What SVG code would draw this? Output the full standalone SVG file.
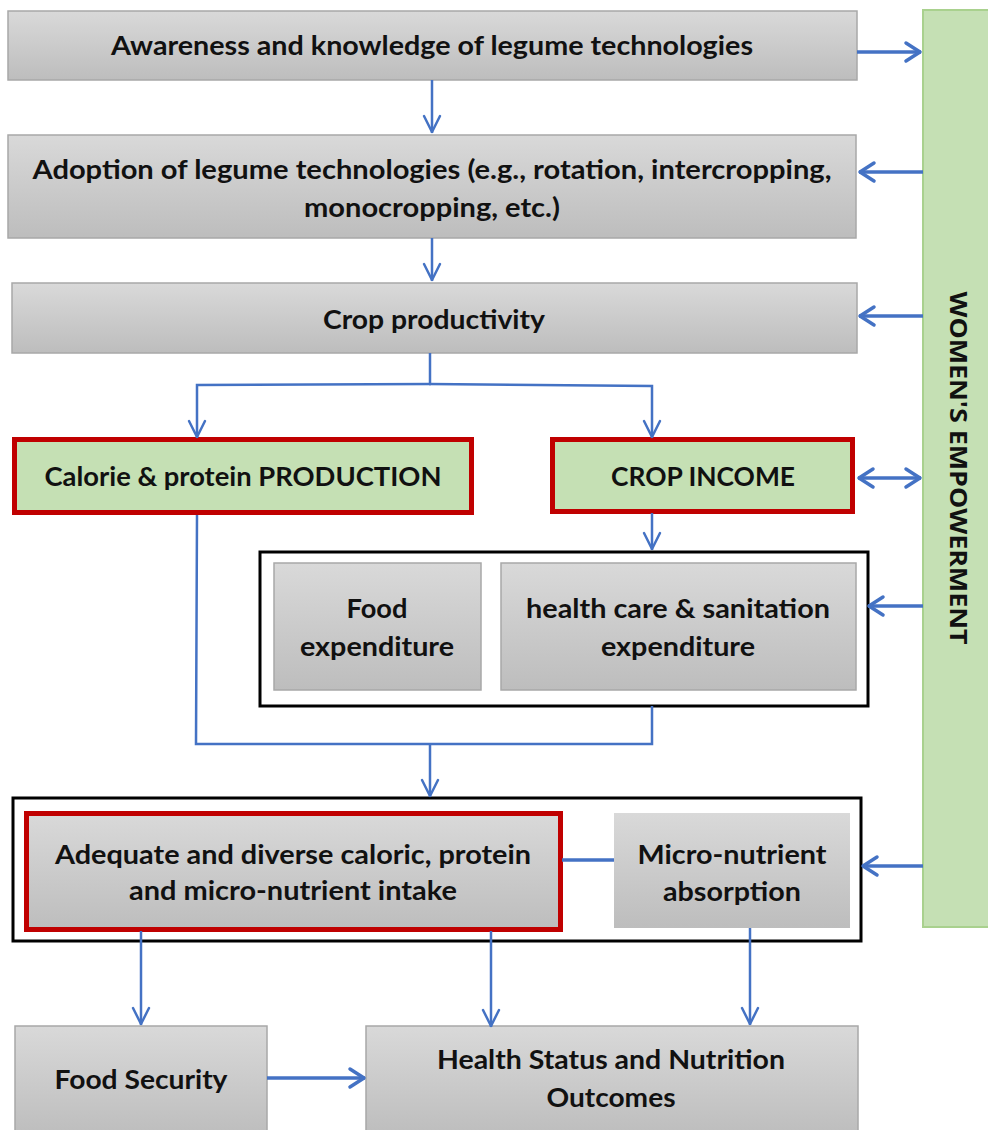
<svg xmlns="http://www.w3.org/2000/svg" width="988" height="1130" viewBox="0 0 988 1130">
<defs>
<linearGradient id="gray" x1="0" y1="0" x2="0" y2="1">
<stop offset="0" stop-color="#d9d9d9"/>
<stop offset="1" stop-color="#bdbdbd"/>
</linearGradient>
<marker id="ah" markerUnits="userSpaceOnUse" markerWidth="24" markerHeight="24" viewBox="-20 -12 24 24" refX="0" refY="0" orient="auto-start-reverse">
<path d="M-15,-9 L-1,0 L-15,9" fill="none" stroke="#4472c4" stroke-width="3.5" stroke-linecap="round" stroke-linejoin="round"/>
</marker>
<marker id="ahs" markerUnits="userSpaceOnUse" markerWidth="24" markerHeight="24" viewBox="-20 -12 24 24" refX="0" refY="0" orient="auto-start-reverse">
<path d="M-17,-8 L-1,0 L-17,8" fill="none" stroke="#4472c4" stroke-width="2.5" stroke-linecap="round" stroke-linejoin="round"/>
</marker>
</defs>
<style>
.g{fill:url(#gray);stroke:#a8a8a8;stroke-width:1.5}
.gr{fill:#c5e0b4;stroke:#c00000;stroke-width:5}
.rg{fill:url(#gray);stroke:#c00000;stroke-width:5}
.cont{fill:#fff;stroke:#000;stroke-width:3}
.side{fill:#c5e0b4;stroke:#a9d18e;stroke-width:2}
text{font-family:"Lato","Liberation Sans",sans-serif;font-weight:bold;font-size:26px;fill:#111;text-anchor:middle}
.c{fill:none;stroke:#4472c4;stroke-width:2.5}
.ct{fill:none;stroke:#4472c4;stroke-width:3.5}
.v{marker-end:url(#ahs)}
.h{marker-end:url(#ah)}
</style>
<g id="womens-empowerment">
<rect class="side" x="923" y="10" width="70" height="917"/>
<text transform="translate(950,468) rotate(90)" style="font-family:'Open Sans','DejaVu Sans',sans-serif;font-size:23px" textLength="353" lengthAdjust="spacingAndGlyphs">WOMEN'S EMPOWERMENT</text>
</g>
<g id="awareness">
<rect class="g" x="8" y="11" width="849" height="69"/>
<text x="432" y="55" textLength="642" lengthAdjust="spacingAndGlyphs">Awareness and knowledge of legume technologies</text>
</g>
<g id="adoption">
<rect class="g" x="8" y="135" width="848" height="103"/>
<text x="432" y="179" textLength="799" lengthAdjust="spacingAndGlyphs">Adoption of legume technologies (e.g., rotation, intercropping,</text>
<text x="432" y="217" textLength="256" lengthAdjust="spacingAndGlyphs">monocropping, etc.)</text>
</g>
<g id="crop-productivity">
<rect class="g" x="12" y="283" width="845" height="70"/>
<text x="434" y="329" textLength="222" lengthAdjust="spacingAndGlyphs">Crop productivity</text>
</g>
<g id="calorie-production">
<rect class="gr" x="14.5" y="439.5" width="457" height="73"/>
<text x="243" y="486" textLength="397" lengthAdjust="spacingAndGlyphs">Calorie &amp; protein PRODUCTION</text>
</g>
<g id="crop-income">
<rect class="gr" x="552.5" y="439.5" width="300" height="72"/>
<text x="703" y="486" textLength="184" lengthAdjust="spacingAndGlyphs">CROP INCOME</text>
</g>
<g id="expenditure-group">
<rect class="cont" x="260" y="552" width="608" height="154"/>
</g>
<g id="food-expenditure">
<rect class="g" x="274" y="563" width="207" height="127"/>
<text x="377" y="618" textLength="61" lengthAdjust="spacingAndGlyphs">Food</text>
<text x="377" y="656" textLength="154" lengthAdjust="spacingAndGlyphs">expenditure</text>
</g>
<g id="health-expenditure">
<rect class="g" x="501" y="563" width="355" height="127"/>
<text x="678" y="618" textLength="304" lengthAdjust="spacingAndGlyphs">health care &amp; sanitation</text>
<text x="678" y="656" textLength="154" lengthAdjust="spacingAndGlyphs">expenditure</text>
</g>
<g id="intake-group">
<rect class="cont" x="13" y="798" width="848" height="143"/>
</g>
<g id="adequate-intake">
<rect class="rg" x="26.5" y="813.5" width="534" height="116"/>
<text x="293" y="864" textLength="476" lengthAdjust="spacingAndGlyphs">Adequate and diverse caloric, protein</text>
<text x="293" y="900" textLength="328" lengthAdjust="spacingAndGlyphs">and micro-nutrient intake</text>
</g>
<g id="micro-absorption">
<rect x="614" y="813" width="236" height="115" fill="url(#gray)"/>
<text x="732" y="864" textLength="189" lengthAdjust="spacingAndGlyphs">Micro-nutrient</text>
<text x="732" y="901" textLength="138" lengthAdjust="spacingAndGlyphs">absorption</text>
</g>
<g id="food-security">
<rect class="g" x="15" y="1026" width="252" height="110"/>
<text x="141" y="1089" textLength="173" lengthAdjust="spacingAndGlyphs">Food Security</text>
</g>
<g id="health-status">
<rect class="g" x="366" y="1026" width="492" height="110"/>
<text x="611" y="1069" textLength="348" lengthAdjust="spacingAndGlyphs">Health Status and Nutrition</text>
<text x="611" y="1107" textLength="129" lengthAdjust="spacingAndGlyphs">Outcomes</text>
</g>
<g id="connectors">
<path class="c v" d="M432,80 V133"/>
<path class="c v" d="M432,238 V281"/>
<path class="ct h" d="M857,52 H921"/>
<path class="ct h" d="M923,172 H859"/>
<path class="ct h" d="M923,316 H859"/>
<path class="ct" d="M858,478 H921" marker-start="url(#ah)" marker-end="url(#ah)"/>
<path class="ct h" d="M923,606 H868"/>
<path class="ct h" d="M923,866 H862"/>
<path class="c" d="M430,353 V384"/>
<path class="c v" d="M431,384 L197,385 V438"/>
<path class="c v" d="M429,384 L652,386 V438"/>
<path class="c v" d="M652,513 V550"/>
<path class="c" d="M197,515 L196,744 H652 V706"/>
<path class="c v" d="M430,744 V797"/>
<path class="ct" d="M562,860 H614"/>
<path class="c v" d="M141,931 V1025"/>
<path class="c v" d="M491,931 V1027"/>
<path class="c v" d="M750,928 V1025"/>
<path class="ct h" d="M267,1078 H365"/>
</g>
</svg>
